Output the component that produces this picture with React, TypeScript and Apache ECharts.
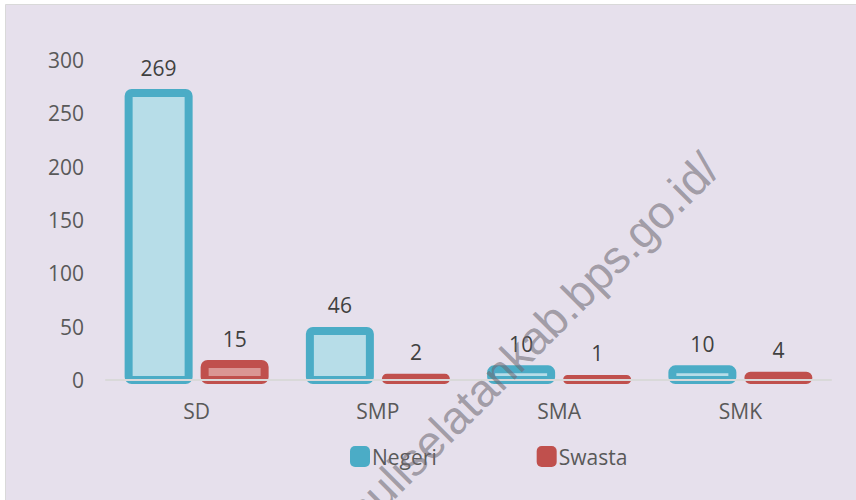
import React, { useEffect, useRef } from "react";
import * as echarts from "echarts";

const categories = ["SD", "SMP", "SMA", "SMK"];
const negeri = [269, 46, 10, 10];
const swasta = [15, 2, 1, 4];
const yTicks = { min: 0, max: 300, interval: 50 };
const watermarkText = "https://tapanuliselatankab.bps.go.id/";

const FONT = "Open Sans";

export default function App() {
  const ref = useRef<HTMLDivElement>(null);
  useEffect(() => {
    if (!ref.current) return;
    const chart = echarts.init(ref.current, undefined, { renderer: "svg" });
    const ctx = document.createElement("canvas").getContext("2d")!;
    ctx.font = "46px 'Liberation Sans'";
    const pre = ctx.measureText("https://tapanuliselatankab").width;

    const labelStyle = {
      show: true,
      position: "top" as const,
      distance: 15,
      fontFamily: FONT,
      fontSize: 21,
      color: "#404040",
    };

    const makeRender = (offset: number, fill: string, stroke: string) =>
      (params: any, api: any) => {
        const top = api.coord([api.value(0), api.value(1)]);
        const base = api.coord([api.value(0), 0]);
        const w = 60;
        return {
          type: "rect",
          shape: { x: top[0] + offset - w / 2, y: top[1], width: w, height: base[1] - top[1], r: 3 },
          style: { fill, stroke, lineWidth: 8 },
        };
      };

    chart.setOption({
      animation: false,
      backgroundColor: "#ffffff",
      textStyle: { fontFamily: FONT },
      grid: { left: 106, right: 25, top: 60, bottom: 120 },
      xAxis: {
        type: "category",
        data: categories,
        z: 5,
        axisLine: { lineStyle: { color: "#d9d9d9", width: 2 } },
        axisTick: { show: false },
        axisLabel: { fontFamily: FONT, fontSize: 21, color: "#595959", margin: 20 },
      },
      yAxis: {
        type: "value",
        min: yTicks.min,
        max: yTicks.max,
        interval: yTicks.interval,
        splitLine: { show: false },
        axisLine: { show: false },
        axisTick: { show: false },
        axisLabel: { fontFamily: FONT, fontSize: 21, color: "#595959", margin: 22 },
      },
      legend: {
        left: 345,
        top: 441,
        itemWidth: 20,
        itemHeight: 21,
        itemGap: 100,
        icon: "roundRect",
        textStyle: { fontFamily: FONT, fontSize: 21, color: "#595959", padding: [0, 0, 0, -3] },
        data: [
          { name: "Negeri", itemStyle: { color: "#4bacc6", borderWidth: 0 } },
          { name: "Swasta", itemStyle: { color: "#c0504d", borderWidth: 0 } },
        ],
      },
      series: [
        {
          name: "Negeri",
          type: "custom",
          z: 2,
          data: negeri.map((v, i) => [i, v]),
          renderItem: makeRender(-38, "#b7dde8", "#4bacc6"),
        },
        {
          name: "Swasta",
          type: "custom",
          z: 2,
          data: swasta.map((v, i) => [i, v]),
          renderItem: makeRender(38, "#da9694", "#c0504d"),
        },
        {
          name: "Negeri",
          type: "bar",
          z: 3,
          data: negeri,
          barWidth: 60,
          barGap: "26.67%",
          itemStyle: { color: "rgba(0,0,0,0)" },
          label: labelStyle,
        },
        {
          name: "Swasta",
          type: "bar",
          z: 3,
          data: swasta,
          barWidth: 60,
          barGap: "26.67%",
          itemStyle: { color: "rgba(0,0,0,0)" },
          label: labelStyle,
        },
      ],
      graphic: [
        {
          type: "rect",
          z: -10,
          silent: true,
          shape: { x: 5.5, y: 4.5, width: 900, height: 600 },
          style: { fill: "#e6e0ec", stroke: "#d9d9d9", lineWidth: 1 },
        },
        {
          type: "text",
          z: 100,
          silent: true,
          x: 570,
          y: 320,
          rotation: Math.PI / 4,
          style: {
            text: watermarkText,
            x: -pre,
            y: 10,
            fill: "rgba(110,105,115,0.58)",
            font: "46px 'Liberation Sans'",
            textAlign: "left",
            textVerticalAlign: "bottom",
          },
        },
      ],
    });
    return () => chart.dispose();
  }, []);
  return (
    <div
      ref={ref}
      style={{ position: "fixed", left: 0, top: 0, width: 856, height: 500 }}
    />
  );
}
